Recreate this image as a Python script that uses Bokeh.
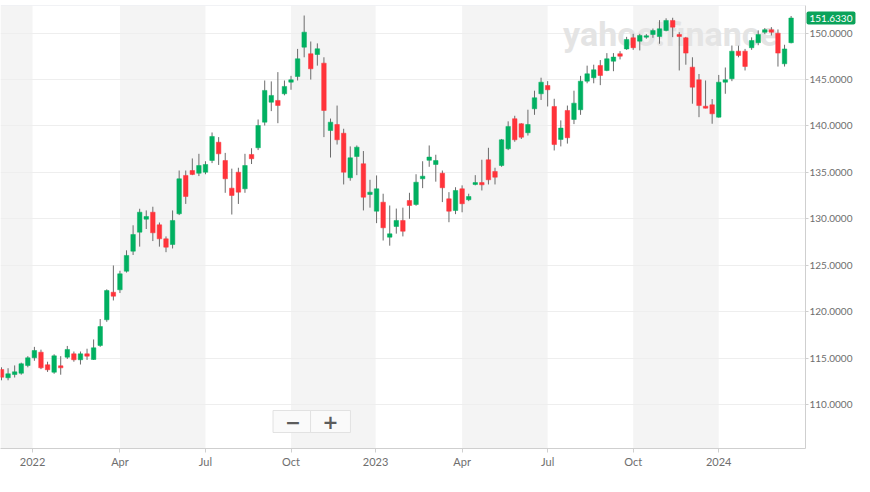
import pandas as pd
from bokeh.plotting import figure
from bokeh.models import (ColumnDataSource, Range1d, FixedTicker, PrintfTickFormatter,
                          BoxAnnotation, Label, Span)
from bokeh.embed import file_html
from bokeh.resources import INLINE

# ---- data (weekly USD/JPY candles) ----
FIRST_WEEK = "2021-11-29"
OPEN = [113.76, 112.87, 113.22, 113.36, 114.19, 115.02, 115.63, 114.27, 113.47, 114.16,
        115.09, 115.45, 114.81, 115.45, 114.84, 116.35, 119.12, 122.09, 122.35, 124.35,
        126.51, 128.56, 129.96, 130.71, 129.35, 127.84, 127.23, 130.54, 134.67, 135.20,
        134.91, 135.02, 136.28, 138.25, 136.28, 133.30, 135.02, 133.23, 136.93, 137.65,
        140.41, 142.56, 142.75, 143.47, 144.72, 145.33, 148.49, 147.78, 147.70, 146.77,
        139.51, 140.16, 139.22, 134.42, 136.71, 135.93, 132.62, 130.82, 131.79, 128.02,
        129.17, 129.82, 131.97, 131.54, 134.31, 136.30, 135.85, 134.91, 132.15, 130.89,
        133.23, 132.05, 133.70, 133.90, 136.36, 135.10, 135.74, 137.54, 140.78, 140.24,
        139.27, 141.85, 143.47, 144.36, 142.10, 138.55, 141.67, 140.70, 141.75, 144.83,
        145.19, 146.52, 145.98, 146.98, 147.78, 148.30, 149.50, 149.14, 149.57, 149.86,
        149.64, 150.29, 151.37, 149.86, 149.50, 146.34, 144.98, 142.13, 142.28, 140.95,
        144.72, 145.09, 148.06, 148.06, 148.43, 148.97, 150.10, 150.37, 150.00, 146.70,
        148.97]
HIGH = [114.0, 113.9, 114.2, 114.5, 115.2, 116.2, 115.9, 114.6, 115.4, 115.2,
        116.3, 115.7, 115.7, 116.0, 117.0, 119.2, 122.4, 124.97, 124.4, 126.6,
        129.3, 131.08, 130.9, 131.3, 129.6, 128.1, 130.9, 135.2, 135.2, 136.5,
        137.0, 136.2, 139.3, 138.8, 137.1, 135.4, 135.5, 137.0, 137.6, 140.7,
        144.9, 144.8, 145.8, 144.9, 145.4, 148.3, 151.9, 149.1, 148.9, 147.4,
        140.8, 142.2, 139.7, 137.8, 137.9, 137.3, 134.2, 134.67, 132.7, 131.43,
        131.1, 131.2, 132.8, 134.8, 136.2, 137.9, 136.9, 135.2, 132.87, 133.4,
        133.6, 132.7, 134.7, 136.36, 137.65, 135.5, 138.6, 140.5, 141.1, 140.3,
        141.75, 143.8, 145.2, 144.83, 142.93, 140.6, 142.2, 143.8, 145.4, 146.5,
        146.6, 147.1, 147.85, 147.85, 148.06, 149.6, 149.93, 149.93, 149.9, 150.5,
        151.4, 151.6, 151.66, 150.1, 149.6, 147.4, 145.6, 144.9, 142.9, 145.5,
        146.3, 148.67, 148.65, 148.3, 149.55, 150.3, 150.55, 150.65, 150.4, 148.75,
        151.85]
LOW = [112.6, 112.6, 112.9, 113.2, 114.0, 114.7, 113.8, 113.5, 113.3, 113.2,
       114.9, 114.6, 114.3, 114.8, 114.8, 116.2, 118.9, 121.2, 122.0, 124.2,
       126.1, 127.0, 128.9, 127.6, 127.0, 126.4, 126.8, 130.4, 131.6, 134.7,
       134.6, 134.8, 136.0, 135.8, 132.8, 130.46, 131.6, 132.8, 135.9, 137.4,
       140.05, 141.6, 140.3, 143.3, 143.9, 144.9, 147.4, 145.0, 146.5, 138.8,
       136.6, 138.0, 133.7, 134.1, 134.7, 130.9, 131.2, 129.53, 127.66, 127.1,
       128.4, 128.1, 130.0, 131.4, 133.3, 135.6, 134.0, 131.8, 129.63, 130.5,
       130.7, 131.9, 133.6, 133.05, 133.7, 133.7, 135.6, 137.4, 138.3, 138.6,
       138.97, 141.2, 142.8, 142.1, 137.36, 137.8, 138.1, 140.2, 141.2, 144.6,
       144.6, 144.4, 145.9, 145.9, 147.17, 148.2, 148.2, 148.14, 149.4, 149.5,
       148.86, 150.2, 149.57, 145.98, 146.6, 142.4, 140.95, 141.9, 140.24, 140.9,
       143.47, 144.83, 147.4, 145.98, 148.2, 148.7, 149.9, 149.75, 146.4, 146.4,
       148.9]
CLOSE = [112.93, 113.30, 113.51, 114.38, 115.02, 115.81, 113.94, 113.73, 115.23, 113.94,
         115.92, 114.81, 115.45, 115.20, 116.10, 118.39, 122.27, 121.66, 124.07, 126.05,
         128.31, 130.71, 130.25, 128.49, 127.84, 126.94, 129.82, 134.31, 132.40, 134.78,
         135.74, 135.85, 138.87, 137.00, 134.31, 132.51, 132.87, 135.74, 136.47, 140.05,
         143.83, 143.29, 142.21, 144.26, 144.98, 147.24, 150.11, 146.16, 148.32, 141.67,
         140.41, 138.51, 135.02, 136.57, 137.72, 132.33, 132.87, 133.23, 129.03, 128.38,
         129.82, 128.66, 131.43, 133.94, 134.59, 136.65, 136.28, 133.34, 130.82, 133.05,
         131.62, 132.40, 133.90, 133.66, 134.20, 134.48, 138.51, 139.95, 138.51, 138.79,
         140.16, 143.04, 144.72, 143.90, 138.00, 139.77, 138.73, 142.46, 144.83, 145.62,
         146.05, 145.44, 147.24, 147.42, 147.52, 149.32, 148.43, 149.75, 149.72, 150.29,
         150.47, 151.37, 150.65, 149.64, 147.85, 144.18, 142.20, 141.92, 141.31, 144.72,
         144.98, 148.06, 147.60, 146.41, 149.21, 149.86, 150.37, 150.10, 147.85, 148.30,
         151.633]

X_TICKS = ["2022-01-01", "2022-04-04", "2022-07-04", "2022-10-03", "2023-01-01",
           "2023-04-03", "2023-07-03", "2023-10-02", "2024-01-01"]
X_TICK_LABELS = ["2022", "Apr", "Jul", "Oct", "2023", "Apr", "Jul", "Oct", "2024"]
Y_TICKS = [110, 115, 120, 125, 130, 135, 140, 145, 150]
SHADED_QUARTERS = [(None, "2022-01-01"), ("2022-04-04", "2022-07-04"),
                   ("2022-10-03", "2023-01-01"), ("2023-04-03", "2023-07-03"),
                   ("2023-10-02", "2024-01-01")]

UP, DOWN, WICK = "#00b061", "#ff333a", "#6b6b6b"
DAY_MS = 86400000


def ms(s):
    return pd.Timestamp(s).value // 10**6


weeks = pd.date_range(FIRST_WEEK, periods=len(OPEN), freq="7D")
src = ColumnDataSource(dict(
    week=weeks,
    open=OPEN, high=HIGH, low=LOW, close=CLOSE,
    top=[max(o, c) for o, c in zip(OPEN, CLOSE)],
    bottom=[min(o, c) for o, c in zip(OPEN, CLOSE)],
    color=[UP if c >= o else DOWN for o, c in zip(OPEN, CLOSE)],
))

x_start = ms(weeks[0]) - 1.06 * DAY_MS
x_end = ms(weeks[-1]) + 15.3 * DAY_MS
y_bottom, y_top = 105.25, 152.98

p = figure(x_axis_type="datetime", frame_width=805, frame_height=443,
           x_range=Range1d(x_start, x_end), y_range=Range1d(y_bottom, y_top),
           y_axis_location="right", output_backend="svg", toolbar_location=None,
           min_border_left=0, min_border_top=5, min_border_right=0, min_border_bottom=0,
           background_fill_color="white", border_fill_color="white",
           outline_line_color=None)

for a, b in SHADED_QUARTERS:
    p.add_layout(BoxAnnotation(left=None if a is None else ms(a), right=ms(b),
                               fill_color="#f4f4f4", fill_alpha=1, line_color=None,
                               level="image"))

p.add_layout(Label(x=670, y=415, x_units="screen", y_units="screen", text="yahoo!finance",
                   text_font="Roboto", text_font_style="bold", text_font_size="34px",
                   text_color="#e4e4e4", text_align="center", text_baseline="middle",
                   level="underlay"))

p.segment(x0="week", y0="low", x1="week", y1="high", source=src, line_color=WICK, line_width=1)
p.vbar(x="week", top="top", bottom="bottom", width=4.8 * DAY_MS, source=src,
       fill_color="color", line_color="color", line_width=0.5)

# axes
p.xaxis.ticker = FixedTicker(ticks=[ms(t) for t in X_TICKS])
p.xaxis.major_label_overrides = {ms(t): lab for t, lab in zip(X_TICKS, X_TICK_LABELS)}
p.xaxis.axis_line_color = "#cfcfcf"
p.xaxis.major_tick_line_color = "#cfcfcf"
p.xaxis.major_tick_out = 4
p.xaxis.major_tick_in = 0
p.xaxis.minor_tick_line_color = None
p.xaxis.major_label_text_font = "Lato"
p.xaxis.major_label_text_font_size = "11px"
p.xaxis.major_label_text_color = "#6e6e6e"
p.xaxis.major_label_standoff = 2

p.yaxis.ticker = FixedTicker(ticks=Y_TICKS)
p.yaxis.formatter = PrintfTickFormatter(format="%.4f")
p.yaxis.axis_line_color = "#cfcfcf"
p.yaxis.major_tick_line_color = "#cfcfcf"
p.yaxis.major_tick_out = 3
p.yaxis.major_tick_in = 0
p.yaxis.minor_tick_line_color = None
p.yaxis.major_label_text_font = "Lato"
p.yaxis.major_label_text_font_size = "10px"
p.yaxis.major_label_text_color = "#6e6e6e"
p.yaxis.major_label_standoff = 1

p.xgrid.grid_line_color = None
p.ygrid.ticker = FixedTicker(ticks=Y_TICKS)
p.ygrid.grid_line_color = "#eeeeee"

p.add_layout(Span(location=y_top, dimension="width", line_color="#e3e6eb", line_width=1))

# last price tag (placed in the right side panel so it is not clipped to the frame)
p.add_layout(Label(x=x_end, y=CLOSE[-1], text=f"{CLOSE[-1]:.4f}", x_offset=1,
                   text_align="left", text_baseline="middle", text_color="white",
                   text_font="Lato", text_font_size="10px",
                   background_fill_color="#0aa35a", padding=3, border_radius=2), "right")

# zoom control (chart chrome)
for sx, sym in ((292.5, "\u2212"), (330, "+")):
    p.add_layout(Label(x=sx, y=27, x_units="screen", y_units="screen", text=sym,
                       text_align="center", text_baseline="middle", text_font="DejaVu Sans",
                       text_font_size="19px", text_font_style="bold", text_color="#5c5c5c",
                       background_fill_color="#fafafa", border_line_color="#e2e2e2",
                       padding=(12, 4)))

open("out.html", "w").write(file_html(p, INLINE))
